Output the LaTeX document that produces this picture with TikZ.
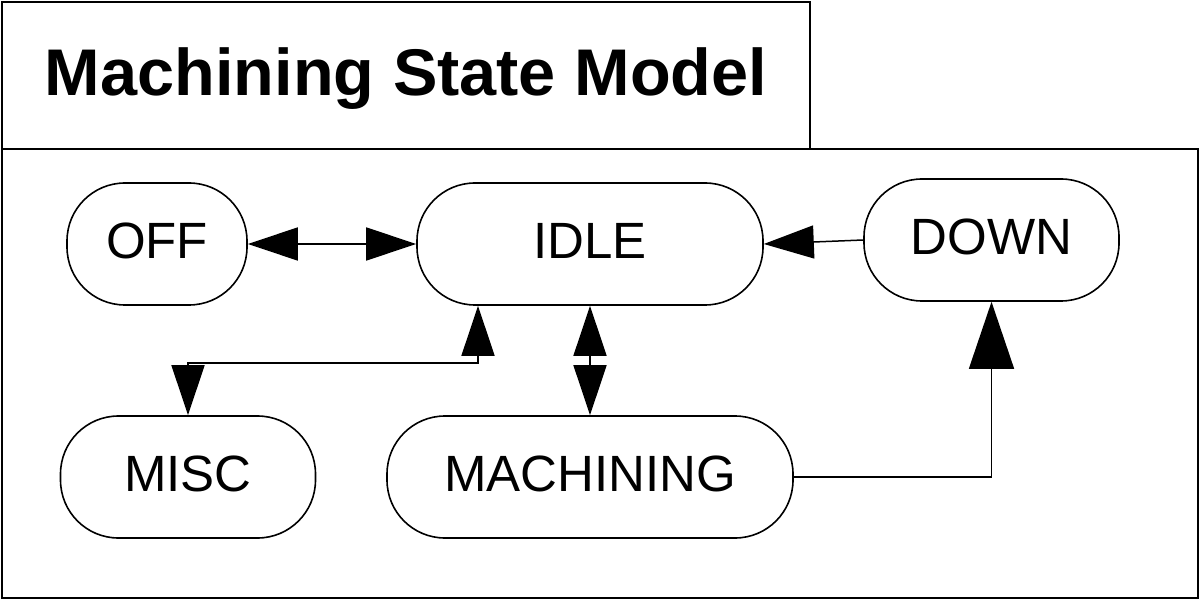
\documentclass[tikz,border=0pt]{standalone}
\usepackage{fontspec}
\setmainfont{Liberation Sans}
\usetikzlibrary{arrows.meta,calc}
\tikzset{
  frame/.style={draw, line width=1.6pt},
  state/.style={draw, line width=1.6pt, rectangle, rounded corners=58pt, minimum height=122pt, inner sep=0pt,
    font=\fontsize{51}{51}\selectfont, text height=36.5pt, text depth=6.6pt},
  conn/.style={line width=1.5pt},
  tipsmall/.tip={Triangle[length=50pt, width=33pt]},
  tipbig/.tip={Triangle[length=67pt, width=45pt]},
}
\begin{document}
\begin{tikzpicture}[x=1pt, y=-1pt]
\useasboundingbox (0,0) rectangle (1201,601);
\fill[white] (0,0) rectangle (1201,601);
% frames
\draw[frame] (2,149) rectangle (1198,598);
\draw[frame] (2,2) rectangle (810,149);
\node[font=\bfseries\fontsize{66}{66}\selectfont, xscale=1.01, anchor=base, inner sep=0pt] (title) at (406,96) {Machining State Model};
% states
\node[state, minimum width=180pt] (off) at (157,244) {OFF};
\node[state, minimum width=346pt] (idle) at (590,244) {IDLE};
\node[state, minimum width=255pt] (down) at (991.5,240) {DOWN};
\node[state, minimum width=255pt] (misc) at (188,477) {MISC};
\node[state, minimum width=406pt] (mach) at (590,477) {MACHINING};
% connectors
\coordinate (j) at (478,363);
\draw[conn, tipsmall-tipsmall] (off) -- (idle);
\draw[conn, -tipsmall] (down.west) -- (idle.east);
\draw[conn, tipsmall-tipsmall] (idle.south) -- (mach.north);
\draw[conn, tipsmall-tipsmall] (j |- idle.south) -- (j) -| (misc.north);
\draw[conn, -tipbig] (mach.east) -| (down.south);
\end{tikzpicture}
\end{document}
